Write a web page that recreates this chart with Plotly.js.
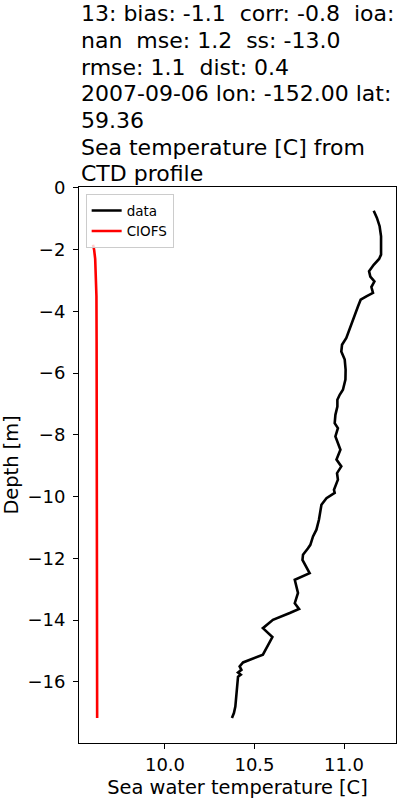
<!DOCTYPE html>
<html>
<head>
<meta charset="utf-8">
<script src="https://cdn.plot.ly/plotly-3.0.1.min.js"></script>
<style>
  html, body { margin: 0; padding: 0; background: #ffffff; }
  #chart { width: 400px; height: 800px; }
</style>
</head>
<body>
<div id="chart"></div>
<script>
// Observed CTD profile ("data")
const dataTemp = [11.166, 11.184, 11.199, 11.207, 11.207, 11.196, 11.166, 11.140, 11.147, 11.170,
  11.153, 11.162, 11.125, 11.093, 11.078, 11.050, 11.032, 11.013, 10.989, 10.985,
  11.004, 11.009, 11.008, 10.994, 10.976, 10.963, 10.963, 10.952, 10.948, 10.966,
  10.952, 10.980, 10.958, 10.985, 10.961, 10.966, 10.944, 10.948, 10.902, 10.874,
  10.860, 10.846, 10.827, 10.812, 10.799, 10.771, 10.768, 10.808, 10.725, 10.743,
  10.725, 10.749, 10.697, 10.603, 10.547, 10.600, 10.547, 10.483, 10.436, 10.417,
  10.427, 10.408, 10.423, 10.408, 10.404, 10.399, 10.393, 10.385, 10.374];
const dataDepth = [-0.74, -0.97, -1.24, -1.57, -2.16, -2.30, -2.49, -2.70, -2.87, -3.03,
  -3.21, -3.40, -3.51, -3.62, -3.84, -4.27, -4.59, -4.86, -5.08, -5.30,
  -5.56, -5.89, -6.21, -6.54, -6.70, -6.86, -7.08, -7.35, -7.62, -7.78,
  -8.05, -8.48, -8.80, -9.02, -9.24, -9.45, -9.78, -9.88, -10.05, -10.26,
  -10.75, -11.07, -11.29, -11.56, -11.67, -11.88, -12.05, -12.48, -12.69, -13.12,
  -13.45, -13.64, -13.77, -13.99, -14.26, -14.55, -15.12, -15.26, -15.37, -15.50,
  -15.61, -15.70, -15.77, -15.83, -16.15, -16.58, -16.80, -17.01, -17.17];

// Model profile ("CIOFS")
const modelTemp = [9.598, 9.604, 9.610, 9.614, 9.617, 9.618, 9.619, 9.620, 9.620, 9.621];
const modelDepth = [-1.84, -2.00, -2.30, -2.80, -3.50, -5.00, -8.00, -11.00, -14.00, -17.17];

const titleLines = [
  "13: bias: -1.1  corr: -0.8  ioa:",
  "nan  mse: 1.2  ss: -13.0",
  "rmse: 1.1  dist: 0.4",
  "2007-09-06 lon: -152.00 lat:",
  "59.36",
  "Sea temperature [C] from",
  "CTD profile"
];
const xTickVals = [10.0, 10.5, 11.0];
const xTickText = ["10.0", "10.5", "11.0"];
const yTickVals = [0, -2, -4, -6, -8, -10, -12, -14, -16];

const FONT = "DejaVu Sans, sans-serif";
const plotTop = 187.3, plotH = 556;
const annotations = titleLines.map((t, i) => {
  const baseline = 21.7 + 26.67 * i;
  const center = baseline - 7.7;
  return {
    text: t, xref: "paper", yref: "paper",
    x: 0, y: 1 + (plotTop - center) / plotH,
    xanchor: "left", yanchor: "middle",
    showarrow: false, align: "left",
    font: { family: FONT, size: 22, color: "#000000" }
  };
});

const traces = [
  { x: dataTemp, y: dataDepth, type: "scatter", mode: "lines", name: "data",
    line: { color: "#000000", width: 2.6 } },
  { x: modelTemp, y: modelDepth, type: "scatter", mode: "lines", name: "CIOFS",
    line: { color: "#ff0000", width: 2.6 } }
];

const layout = {
  width: 400, height: 800,
  margin: { l: 79, r: 4, t: 187, b: 57, pad: 0 },
  paper_bgcolor: "#ffffff", plot_bgcolor: "#ffffff",
  font: { family: FONT, color: "#000000" },
  showlegend: true,
  legend: {
    x: 0.021, y: 0.987, xanchor: "left", yanchor: "top",
    bgcolor: "rgba(255,255,255,0.8)", bordercolor: "#cccccc", borderwidth: 1,
    font: { family: FONT, size: 13.5, color: "#000000" },
    tracegroupgap: 0
  },
  xaxis: {
    range: [9.5196, 11.2905], tickvals: xTickVals, ticktext: xTickText,
    showgrid: false, zeroline: false, showline: true, linecolor: "#000000", linewidth: 1,
    mirror: true, ticks: "outside", ticklen: 5, tickwidth: 1, tickcolor: "#000000",
    tickfont: { family: FONT, size: 18, color: "#000000" },
    title: { text: "Sea water temperature [C]", font: { family: FONT, size: 19.4, color: "#000000" }, standoff: 6 }
  },
  yaxis: {
    range: [-17.98, 0.03], tickvals: yTickVals,
    showgrid: false, zeroline: false, showline: true, linecolor: "#000000", linewidth: 1,
    mirror: true, ticks: "outside", ticklen: 5, tickwidth: 1, tickcolor: "#000000",
    tickfont: { family: FONT, size: 18, color: "#000000" },
    ticklabelstandoff: 4,
    title: { text: "Depth [m]", font: { family: FONT, size: 19.4, color: "#000000" }, standoff: 8 }
  },
  annotations: annotations,
  hovermode: false
};

Plotly.newPlot("chart", traces, layout, { displayModeBar: false, staticPlot: true });
</script>
</body>
</html>
